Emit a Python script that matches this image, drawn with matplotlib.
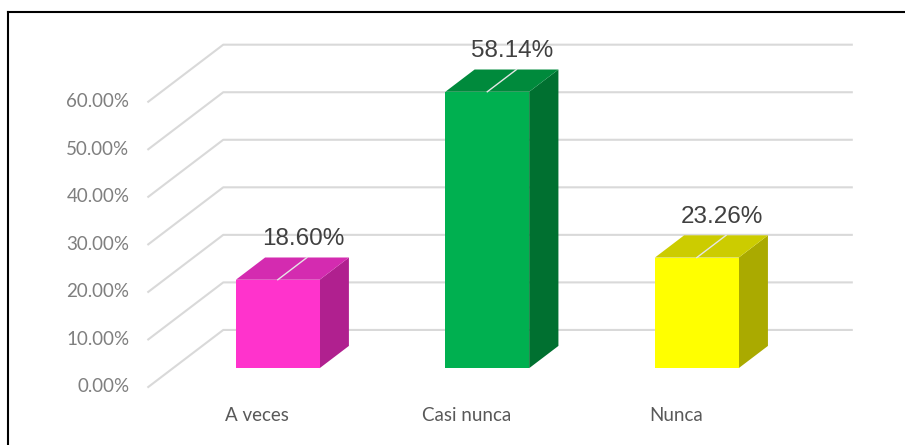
#!/usr/bin/env python3

import matplotlib.pyplot as plt
from matplotlib.patches import Polygon
from matplotlib.lines import Line2D

categories = ["A veces", "Casi nunca", "Nunca"]
values = [18.60, 58.14, 23.26]
labels = ["18.60%", "58.14%", "23.26%"]
front_colors = ["#FF33CC", "#00B050", "#FFFF00"]
top_colors = ["#D42BB0", "#008A3C", "#CCCC00"]
side_colors = ["#B0208F", "#007030", "#AAAA00"]
ticks = [0, 10, 20, 30, 40, 50, 60]
tick_labels = ["0.00%", "10.00%", "20.00%", "30.00%", "40.00%", "50.00%", "60.00%"]

# fake 3d: depth goes 0 (front) -> 1 (back wall)
DX = 0.358
DY = 12.0
BAR_W = 0.40
BAR_D0, BAR_D1 = 0.33, 0.72
X0, X1 = -0.5, 2.5
GRID = "#D9D9D9"


def proj(x, y, d):
    return (x + d * DX, y + d * DY)


def main():
    fig = plt.figure(figsize=(9.05, 4.45), dpi=100)
    ax = fig.add_axes([0, 0, 1, 1])
    ax.set_xlim(-1.2076, 3.112)
    ax.set_ylim(-12.2, 81.4)
    ax.axis("off")

    # walls grid
    for t, lab in zip(ticks, tick_labels):
        a = proj(X0, t, 0)
        b = proj(X0, t, 1)
        c = proj(X1, t, 1)
        ax.plot([a[0], b[0], c[0]], [a[1], b[1], c[1]], color=GRID, lw=1.5, zorder=1)
        ax.text(a[0] - 0.09, t, lab, ha="right", va="center", fontsize=13.5,
                color="#7F7F7F", family="Lato")

    for i, (cat, v) in enumerate(zip(categories, values)):
        xl = i - BAR_W / 2
        xr = i + BAR_W / 2
        front = [proj(xl, 0, BAR_D0), proj(xr, 0, BAR_D0),
                 proj(xr, v, BAR_D0), proj(xl, v, BAR_D0)]
        side = [proj(xr, 0, BAR_D0), proj(xr, 0, BAR_D1),
                proj(xr, v, BAR_D1), proj(xr, v, BAR_D0)]
        top = [proj(xl, v, BAR_D0), proj(xr, v, BAR_D0),
               proj(xr, v, BAR_D1), proj(xl, v, BAR_D1)]
        ax.add_patch(Polygon(side, closed=True, fc=side_colors[i], ec="none", zorder=3))
        ax.add_patch(Polygon(top, closed=True, fc=top_colors[i], ec="none", zorder=3))
        ax.add_patch(Polygon(front, closed=True, fc=front_colors[i], ec="none", zorder=4))

        # leader line across the top face
        p = proj(i, v, BAR_D0)
        q = proj(i, v, BAR_D1)
        ax.plot([p[0], q[0]], [p[1], q[1]], color="#E6E6E6", lw=1, zorder=5)
        ax.text(p[0] + 0.12, p[1] + 8.5, labels[i], ha="center", va="center",
                fontsize=17.5, color="#404040", family="Liberation Sans", zorder=6)

        ax.text(i + 0.02, -5.9, cat, ha="center", va="center", fontsize=13.5,
                color="#595959", family="Lato")

    # chart frame (only top and left visible)
    fig.add_artist(Line2D([8 / 905, 8 / 905], [0, 1 - 12 / 445],
                          color="black", lw=1.5, transform=fig.transFigure))
    fig.add_artist(Line2D([8 / 905, 1], [1 - 12 / 445, 1 - 12 / 445],
                          color="black", lw=1.5, transform=fig.transFigure))

    fig.savefig("out.png", dpi=100)


if __name__ == "__main__":
    main()
